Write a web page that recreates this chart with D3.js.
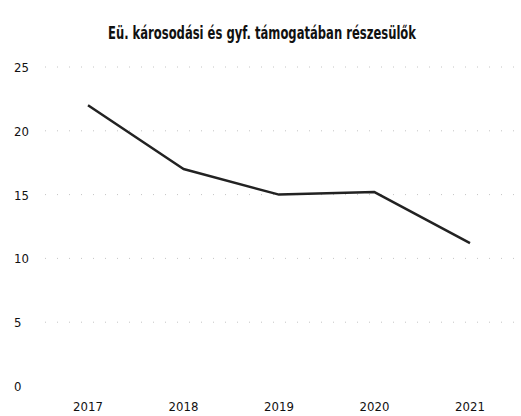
<!DOCTYPE html>
<html>
<head>
<meta charset="utf-8">
<script src="https://cdn.jsdelivr.net/npm/d3@7"></script>
<style>
  body { margin: 0; background: #fff; }
  text { font-family: "DejaVu Sans Condensed", "DejaVu Sans", sans-serif; font-stretch: condensed; fill: #111; }
</style>
</head>
<body>
<div id="chart"></div>
<script>
// data
const years = ['2017', '2018', '2019', '2020', '2021']
const values = [22, 17, 15, 15.2, 11.2]
const yTicks = [0, 5, 10, 15, 20, 25]
const title = 'Eü. károsodási és gyf. támogatában részesülők'

const width = 521
const height = 416
const margin = { top: 67, right: 4, bottom: 30, left: 40 }

const svg = d3.select('#chart').append('svg')
  .attr('width', width)
  .attr('height', height)

const x = d3.scalePoint()
  .domain(years)
  .range([88, 470])

const y = d3.scaleLinear()
  .domain([0, 25])
  .range([height - margin.bottom, margin.top])

// title
svg.append('text')
  .attr('x', 262)
  .attr('y', 39)
  .attr('text-anchor', 'middle')
  .style('font-size', '17px')
  .style('font-weight', 'bold')
  .attr('textLength', 308)
  .attr('lengthAdjust', 'spacingAndGlyphs')
  .text(title)

// faint gridlines
svg.append('g')
  .selectAll('line')
  .data(yTicks.slice(1))
  .enter()
  .append('line')
  .attr('x1', 45)
  .attr('x2', 515)
  .attr('y1', d => y(d))
  .attr('y2', d => y(d))
  .attr('stroke', '#c4c4c4')
  .attr('stroke-width', 1)
  .attr('stroke-dasharray', '1 11')

// y labels
svg.append('g')
  .selectAll('text')
  .data(yTicks)
  .enter()
  .append('text')
  .attr('x', 14)
  .attr('y', d => y(d) + 5)
  .style('font-size', '13px')
  .text(d => d)

// x labels
svg.append('g')
  .selectAll('text')
  .data(years)
  .enter()
  .append('text')
  .attr('x', d => x(d))
  .attr('y', 411)
  .attr('text-anchor', 'middle')
  .style('font-size', '13px')
  .text(d => d)

const line = d3.line()
  .x((d, i) => x(years[i]))
  .y(d => y(d))

svg.append('path')
  .datum(values)
  .attr('d', line)
  .attr('fill', 'none')
  .attr('stroke', '#222')
  .attr('stroke-width', 2.5)
  .attr('stroke-linejoin', 'round')
</script>
</body>
</html>
